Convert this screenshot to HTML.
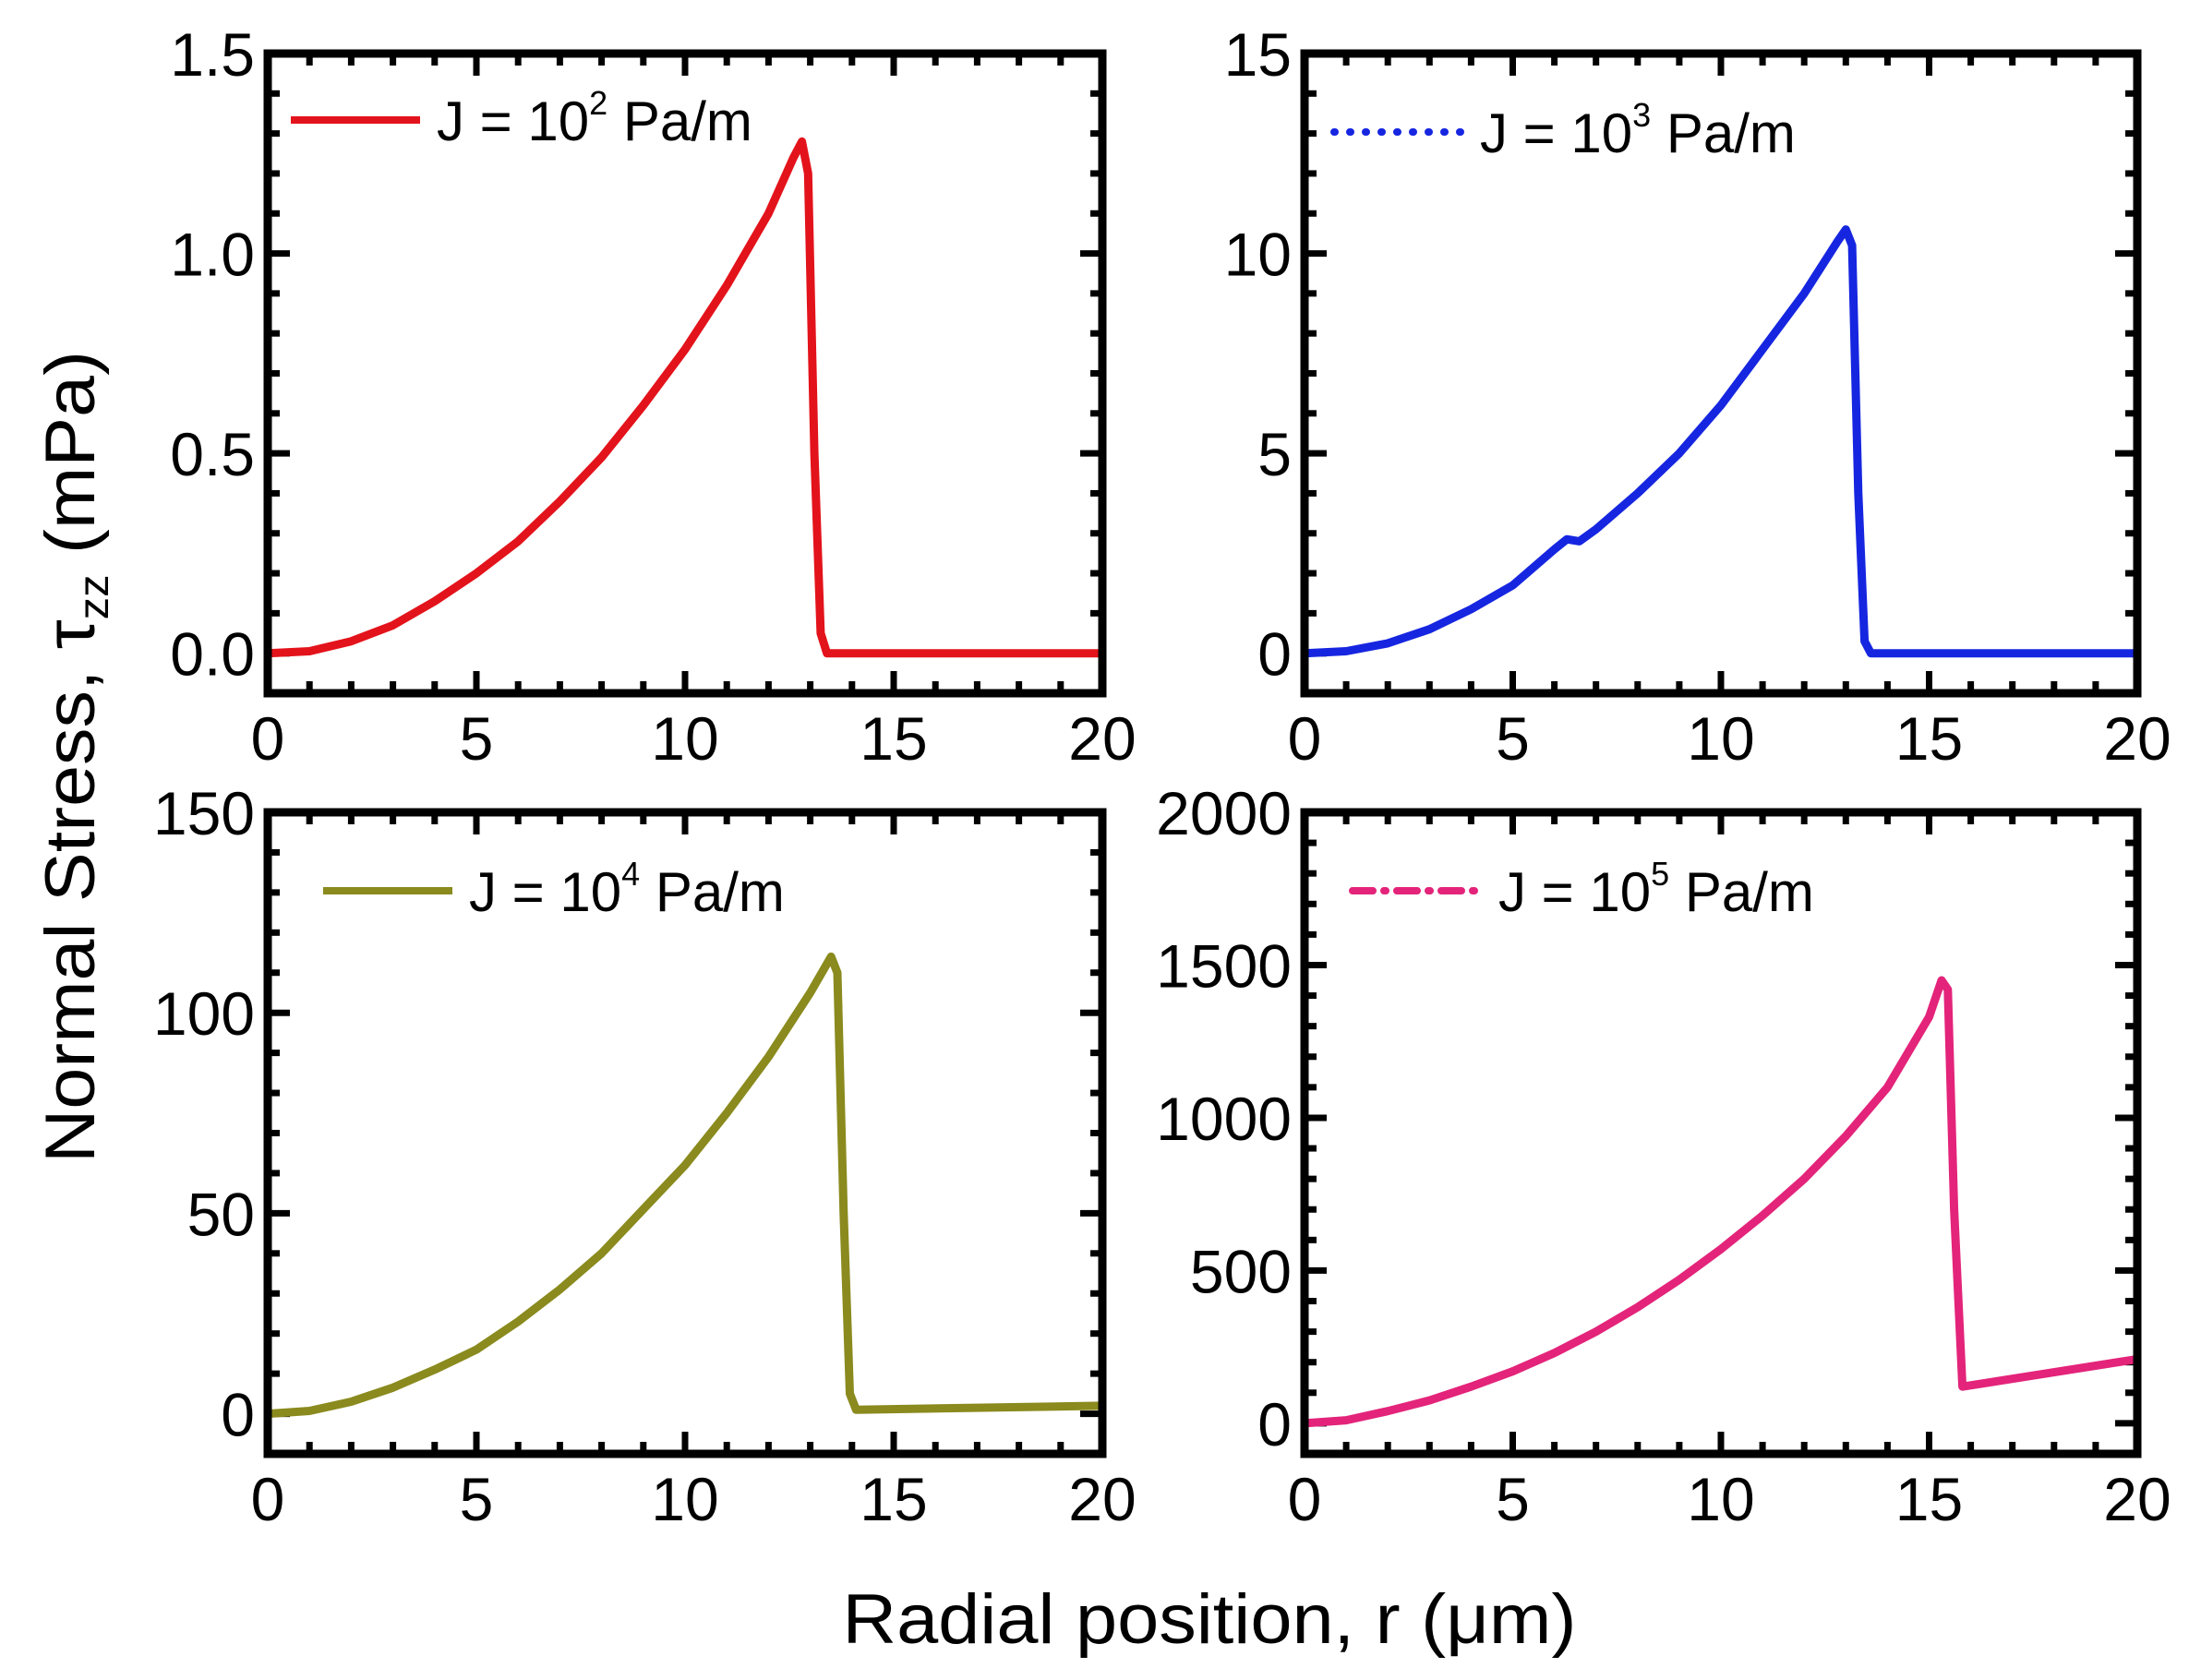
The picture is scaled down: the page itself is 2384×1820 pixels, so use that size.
<!DOCTYPE html>
<html><head><meta charset="utf-8"><style>
html,body{margin:0;padding:0;background:#fff}
svg{display:block}
text{font-family:"Liberation Sans",sans-serif;fill:#000}
</style></head><body>
<svg id="fig" width="2384" height="1820" viewBox="0 0 2384 1820" xmlns="http://www.w3.org/2000/svg">
<text transform="translate(102,820) rotate(-90)" text-anchor="middle" font-size="76" textLength="880" lengthAdjust="spacingAndGlyphs">Normal Stress, τ<tspan font-size="46" dy="15">zz</tspan><tspan dy="-15"> (mPa)</tspan></text>
<text x="1310" y="1780" text-anchor="middle" font-size="76" textLength="795" lengthAdjust="spacingAndGlyphs">Radial position, r (μm)</text>
</svg>
<script>
// Panel A: J = 1e2
const rA = [0,1,2,3,4,5,6,7,8,9,10,11,12,12.6,12.8,12.95,13.1,13.25,13.4,20];
const vA = [0,0.005,0.03,0.07,0.13,0.2,0.28,0.38,0.49,0.62,0.76,0.92,1.1,1.24,1.28,1.2,0.5,0.05,0,0];
// Panel B: J = 1e3
const rB = [0,1,2,3,4,5,6,6.3,6.6,7,8,9,10,11,12,12.8,13.0,13.15,13.3,13.45,13.6,20];
const vB = [0,0.05,0.25,0.6,1.1,1.7,2.6,2.85,2.8,3.1,4.0,5.0,6.2,7.6,9.0,10.3,10.6,10.2,4,0.3,0,0];
// Panel C: J = 1e4
const rC = [0,1,2,3,4,5,6,7,8,9,10,11,12,13,13.5,13.65,13.8,13.95,14.1,20];
const vC = [0,0.7,3,6.5,11,16,23,31,40,51,62,75,89,105,114,110,50,5,1,2];
// Panel D: J = 1e5
const rD = [0,1,2,3,4,5,6,7,8,9,10,11,12,13,14,15,15.3,15.45,15.6,15.8,20];
const vD = [0,10,40,75,120,170,230,300,380,470,570,680,800,940,1100,1330,1450,1420,700,120,210];

const xTicks = [0,5,10,15,20];
const yTicksA = [0,0.5,1.0,1.5], yLabA = ["0.0","0.5","1.0","1.5"];
const yTicksB = [0,5,10,15], yLabB = ["0","5","10","15"];
const yTicksC = [0,50,100,150], yLabC = ["0","50","100","150"];
const yTicksD = [0,500,1000,1500,2000], yLabD = ["0","500","1000","1500","2000"];

const NS = "http://www.w3.org/2000/svg";
const svg = document.getElementById('fig');
function mk(tag, attrs, parent){const e=document.createElementNS(NS,tag);for(const k in attrs)e.setAttribute(k,attrs[k]);(parent||svg).appendChild(e);return e;}

function panel(p){
  const g = mk('g',{});
  
  
  const X = v => p.x0 + (v-0)/20*(p.x1-p.x0);
  const Y = v => p.yb - (v-p.ymin)/(p.ymax-p.ymin)*(p.yb-p.yt);
  for(let i=0;i<=20;i++){
    const x=X(i), len = i%5===0?24:13;
    const t1=mk('line',{x1:x,x2:x,y1:p.yb,y2:p.yb-len,stroke:'#000','stroke-width':7},g);
    
    
    mk('line',{x1:x,x2:x,y1:p.yt,y2:p.yt+len,stroke:'#000','stroke-width':7},g);
  }
  const nm = Math.round((p.ymax-p.ymin)/p.minor);
  for(let i=0;i<=nm;i++){
    const v = p.ymin + i*p.minor;
    const isMaj = p.yt_.some(t=>Math.abs(t-v)<p.minor*0.01);
    const len = isMaj?24:13, y=Y(v);
    const t2=mk('line',{x1:p.x0,x2:p.x0+len,y1:y,y2:y,stroke:'#000','stroke-width':7},g);
    
    
    mk('line',{x1:p.x1,x2:p.x1-len,y1:y,y2:y,stroke:'#000','stroke-width':7},g);
  }
  xTicks.forEach(v=>{
    const t=mk('text',{x:X(v),y:p.yb+72,'text-anchor':'middle','font-size':66},g);
    t.textContent=v;
    
    
  });
  p.yt_.forEach((v,i)=>{
    const t=mk('text',{x:p.x0-14,y:Y(v)+24,'text-anchor':'end','font-size':66},g);
    t.textContent=p.yl[i];
    
    
  });
  const d = p.r.map((r,i)=>(i?'L':'M')+X(r).toFixed(1)+','+Y(p.v[i]).toFixed(1)).join(' ');
  const path=mk('path',{d:d,fill:'none',stroke:p.color,'stroke-width':9,'stroke-linejoin':'round','stroke-linecap':'round'},g);
  
  
  const lg = mk('g',{},g);
  
  
  const la = {x1:p.lx,x2:p.lx+140,y1:p.ly,y2:p.ly,stroke:p.color,'stroke-width':8};
  if(p.dash){la['stroke-dasharray']=p.dash;la['stroke-linecap']='round';}
  mk('line',la,lg);
  const lt=mk('text',{x:p.lx+158,y:p.ly+22,'font-size':60},lg);
  lt.innerHTML='J = 10<tspan font-size="36" dy="-28">'+p.exp+'</tspan><tspan dy="28"> Pa/m</tspan>';
  const f=mk('rect',{x:p.x0,y:p.yt,width:p.x1-p.x0,height:p.yb-p.yt,fill:'none',stroke:'#000','stroke-width':9},g);
  
  
}

panel({name:'panel-j1e2',series:'series-j1e2',x0:290,x1:1194,yt:58,yb:751,ymin:-0.1,ymax:1.5,minor:0.1,yt_:yTicksA,yl:yLabA,r:rA,v:vA,color:'#e3131b',lx:315,ly:130,exp:'2'});
panel({name:'panel-j1e3',series:'series-j1e3',x0:1413,x1:2315,yt:58,yb:751,ymin:-1,ymax:15,minor:1,yt_:yTicksB,yl:yLabB,r:rB,v:vB,color:'#1626e0',lx:1445,ly:143,exp:'3',dash:'1 16'});
panel({name:'panel-j1e4',series:'series-j1e4',x0:290,x1:1194,yt:880,yb:1575,ymin:-10,ymax:150,minor:10,yt_:yTicksC,yl:yLabC,r:rC,v:vC,color:'#8a8a1e',lx:350,ly:965,exp:'4'});
panel({name:'panel-j1e5',series:'series-j1e5',x0:1413,x1:2315,yt:880,yb:1575,ymin:-100,ymax:2000,minor:100,yt_:yTicksD,yl:yLabD,r:rD,v:vD,color:'#e3247a',lx:1465,ly:965,exp:'5',dash:'22 12 2 12'});
</script>
</body></html>
